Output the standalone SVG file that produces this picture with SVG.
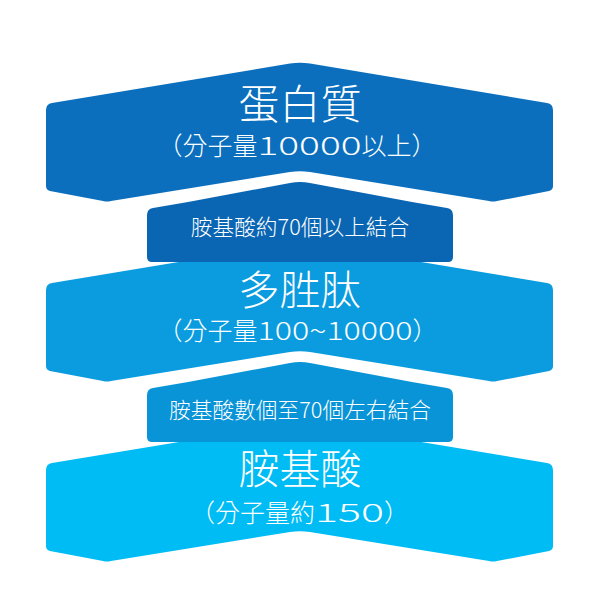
<svg xmlns="http://www.w3.org/2000/svg" xmlns:xlink="http://www.w3.org/1999/xlink" width="600" height="600" viewBox="0 0 600 600">
<style>
.t{fill:#ffffff;font-family:"Noto Sans CJK TC","Noto Sans CJK SC",sans-serif;font-weight:300}
.h{font-size:41px;text-anchor:middle}
.s{font-size:25px}
.m{font-size:21.7px;text-anchor:middle}
</style>
<defs>
<path id="big" d="M46,110 Q46,104 52,103 L290,63.5 Q300,62 310,63.5 L547,103 Q553,104 553,110 L553,186 Q553,190 549,191 L497,201 Q493,202 489,201 L310,172 Q300,170.5 290,172 L111,201 Q107,202 103,201 L50,191 Q46,190 46,186 Z"/>
<path id="small" d="M147,215 Q147,209 153,208 L188,202 L290,183 Q300,181 310,183 L412,202 L447,208 Q453,209 453,215 L453,257 Q453,262 448,262 L152,262 Q147,262 147,257 Z"/>
</defs>
<rect width="600" height="600" fill="#ffffff"/>
<g id="protein">
<use xlink:href="#big" fill="#0B6FBE"/>
<text class="t h" x="300" y="119">蛋白質</text>
<text class="t s" x="157.5" y="155.3"><tspan>（分子量</tspan><tspan textLength="104" lengthAdjust="spacingAndGlyphs">10000</tspan><tspan>以上）</tspan></text>
</g>
<g id="peptide">
<use xlink:href="#big" y="180" fill="#0A9CDF"/>
<text class="t h" x="300" y="305">多胜肽</text>
<text class="t s" x="157.5" y="340"><tspan>（分子量</tspan><tspan textLength="155" lengthAdjust="spacingAndGlyphs">100~10000</tspan><tspan>）</tspan></text>
</g>
<g id="amino">
<use xlink:href="#big" y="360" fill="#00BCF5"/>
<text class="t h" x="300" y="484">胺基酸</text>
<text class="t s" x="190" y="521.5"><tspan>（分子量約</tspan><tspan textLength="69" lengthAdjust="spacingAndGlyphs">150</tspan><tspan>）</tspan></text>
</g>
<g id="bond1">
<use xlink:href="#small" fill="#0A66B3"/>
<text class="t m" x="300" y="235.2">胺基酸約70個以上結合</text>
</g>
<g id="bond2">
<use xlink:href="#small" y="180" fill="#0994D7"/>
<text class="t m" x="300" y="418.2">胺基酸數個至70個左右結合</text>
</g>
<g id="connectors"></g>
</svg>
